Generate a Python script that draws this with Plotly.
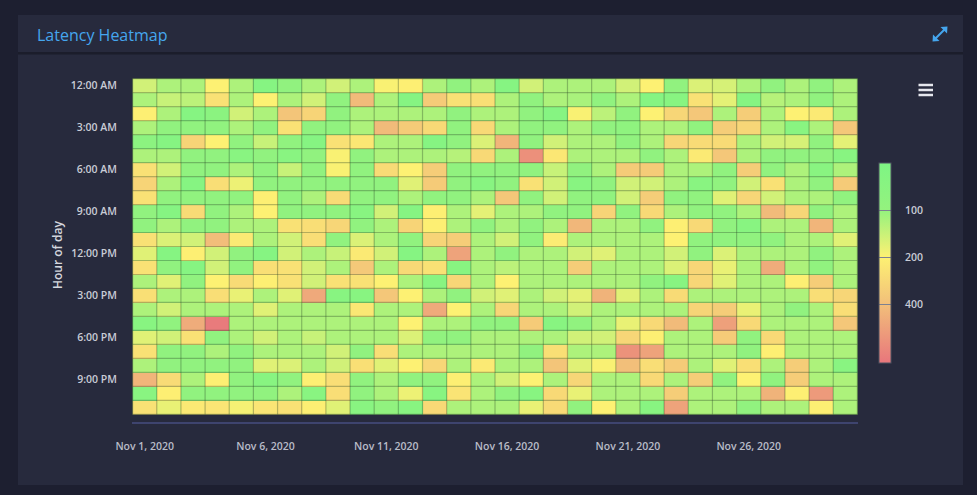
import numpy as np
import pandas as pd
import plotly.graph_objects as go

# ---------------- data ----------------
days = pd.date_range("2020-11-01", periods=30, freq="D")
hours = list(range(24))
hour_ticks = [0, 3, 6, 9, 12, 15, 18, 21]
hour_labels = ["12:00 AM", "3:00 AM", "6:00 AM", "9:00 AM",
               "12:00 PM", "3:00 PM", "6:00 PM", "9:00 PM"]

# latency (ms): one row per hour of day (0..23), one column per day (Nov 1..30)
latency_ms = [
    [150,118,118,200,118,65,90,118,150,118, 195,205,118,90,118,65,150,118,118,118, 150,200,90,160,155,118,90,118,90,118],
    [118,140,130,250,118,200,118,150,90,420, 118,65,340,250,255,118,90,118,115,90, 118,65,68,250,170,65,125,118,90,118],
    [205,118,65,75,150,118,370,300,90,118, 118,118,118,90,118,118,90,65,195,130, 90,200,290,360,118,330,118,200,220,118],
    [118,90,90,90,118,90,250,90,90,118, 420,340,280,90,280,118,90,90,118,90, 85,118,118,90,330,290,118,70,118,360],
    [78,65,300,200,90,140,90,65,250,230, 118,118,65,90,160,450,90,150,118,118, 90,118,290,270,270,118,150,155,90,170],
    [118,118,90,90,70,90,70,90,195,90, 118,118,118,125,280,118,700,230,118,118, 118,90,118,220,360,118,90,90,90,68],
    [250,150,90,90,118,90,140,90,195,90, 270,200,330,90,90,90,90,140,90,118, 340,340,118,118,90,330,90,118,70,118],
    [300,118,65,260,180,90,90,90,90,90, 90,165,340,90,68,90,250,150,68,90, 150,150,118,70,90,150,250,118,90,340],
    [250,90,90,90,90,205,90,118,270,90, 90,118,90,90,118,360,90,150,90,90, 150,330,90,90,165,290,150,118,118,90],
    [90,65,270,90,118,200,90,90,90,68, 150,65,205,118,170,118,118,90,90,300, 90,280,118,90,90,118,420,290,90,118],
    [90,118,90,90,118,118,250,260,290,90, 118,300,205,118,90,118,90,118,440,118, 118,90,205,280,90,68,118,118,450,118],
    [250,160,150,410,220,118,150,260,90,160, 118,90,300,330,118,150,90,215,118,118, 118,118,200,90,90,90,90,118,118,165],
    [165,65,205,150,90,65,150,118,140,220, 150,65,118,560,118,90,118,118,150,165, 118,118,150,90,160,118,118,118,90,118],
    [250,90,65,150,90,255,250,150,118,350, 118,280,250,68,118,130,118,118,330,118, 118,118,160,290,175,118,500,118,90,118],
    [118,165,90,200,270,205,250,150,250,250, 200,118,68,290,118,200,118,118,118,118, 118,90,68,290,165,118,118,205,330,118],
    [255,118,118,260,175,118,165,520,68,68, 360,200,118,90,150,165,118,150,170,460, 165,118,270,118,118,118,118,118,260,290],
    [118,150,118,118,118,165,118,118,118,230, 118,118,510,200,118,290,118,118,150,118, 118,118,118,300,330,175,118,90,118,260],
    [68,90,500,900,118,118,118,118,118,118, 118,200,118,118,90,90,340,68,90,118, 175,280,420,118,580,280,118,118,118,360],
    [165,150,250,90,118,150,118,140,118,118, 118,160,90,90,118,118,118,118,150,150, 290,205,118,118,340,90,280,118,118,118],
    [250,90,90,118,90,118,118,118,150,90, 260,118,118,118,118,118,90,255,118,118, 680,560,118,118,118,90,205,118,118,118],
    [118,90,90,90,90,165,160,118,150,255, 165,200,290,118,220,118,118,370,165,195, 400,260,340,118,165,255,118,330,118,70],
    [450,270,118,205,90,68,90,205,260,90, 118,90,90,205,118,150,200,118,290,118, 118,280,118,330,90,200,90,330,118,118],
    [70,205,90,90,90,90,118,70,260,90, 118,180,68,240,118,90,68,280,175,118, 118,118,330,118,118,118,460,205,620,118],
    [250,175,225,235,190,235,250,205,165,70, 90,68,280,118,118,118,175,275,90,200, 118,68,560,118,118,90,118,118,205,118],
]

vmin, vmax = 50, 950
colorbar_ticks = [100, 200, 400]
stop_values = [950, 400, 200, 100, 50]
stop_colors = ["#e8767c", "#f2bf7a", "#fdf173", "#94f27e", "#7ef584"]

# ---------------- styling ----------------
PAGE_BG = "#1d1f30"
CARD_BG = "#272a3d"
BORDER_C = "rgba(40,66,36,0.33)"
TXT = "#c9ccd6"
FONT = "Open Sans"

W, H = 977, 495
L, R, T, B = 132, 858, 78, 415


def px(x):
    return (x - L) / (R - L)


def py(y):
    return (B - y) / (B - T)


vals = np.array(latency_ms, dtype=float)
# log color axis, drawn with the smallest value at the top of the colorbar
z = -np.log10(vals)
zmin, zmax = -np.log10(vmax), -np.log10(vmin)
colorscale = sorted(
    [[float((-np.log10(v) - zmin) / (zmax - zmin)), c] for v, c in zip(stop_values, stop_colors)]
)

fig = go.Figure()
fig.add_trace(go.Heatmap(
    x=days, y=hours, z=z, zmin=zmin, zmax=zmax,
    colorscale=colorscale,
    customdata=vals,
    hovertemplate="%{x|%b %-d, %Y}, hour %{y}<br>%{customdata} ms<extra></extra>",
    colorbar=dict(
        x=px(879), xanchor="left", xpad=0,
        y=py(263.3), yanchor="middle", ypad=0,
        len=200, lenmode="pixels", thickness=12, thicknessmode="pixels",
        outlinewidth=1, outlinecolor="#4f5262",
        tickmode="array",
        tickvals=[-np.log10(v) for v in colorbar_ticks],
        ticktext=["\u00a0\u00a0\u00a0\u00a0" + str(v) for v in colorbar_ticks],
        ticks="inside", ticklen=12, tickwidth=1, tickcolor="#7d8190",
        tickfont=dict(family=FONT, size=10.5, color=TXT, weight=600),
    ),
))

shapes = [
    # card
    dict(type="rect", xref="paper", yref="paper", x0=px(18), x1=px(963), y0=py(15), y1=py(485),
         fillcolor=CARD_BG, line=dict(width=0), layer="below"),
    # header separator
    dict(type="rect", xref="paper", yref="paper", x0=px(18), x1=px(963), y0=py(52), y1=py(54.5),
         fillcolor="#1b1d2b", line=dict(width=0), layer="below"),
    # x axis line
    dict(type="line", xref="paper", yref="paper", x0=px(132), x1=px(858), y0=py(423), y1=py(423),
         line=dict(color="#474e80", width=1.5)),
    # expand icon
    dict(type="line", xref="paper", yref="paper", x0=px(935.5), x1=px(944.5), y0=py(38.5), y1=py(29.5),
         line=dict(color="#45a6ee", width=2)),
    dict(type="path", xref="paper", yref="paper",
         path=f"M {px(947.5)} {py(26.5)} L {px(940.5)} {py(27)} L {px(947)} {py(33.5)} Z",
         fillcolor="#45a6ee", line=dict(width=0)),
    dict(type="path", xref="paper", yref="paper",
         path=f"M {px(932.5)} {py(41.5)} L {px(939.5)} {py(41)} L {px(933)} {py(34.5)} Z",
         fillcolor="#45a6ee", line=dict(width=0)),
]
# hamburger menu icon
for yy in (85, 90, 95):
    shapes.append(dict(type="line", xref="paper", yref="paper", x0=px(918.5), x1=px(933),
                       y0=py(yy), y1=py(yy), line=dict(color="#e6e7ee", width=2.5)))

# cell borders (semi-transparent, like the heatmap's point borders)
half_day = pd.Timedelta(hours=12)
x_edges = [d - half_day for d in days] + [days[-1] + half_day]
y_edges = [h - 0.5 for h in hours] + [hours[-1] + 0.5]
for xe in x_edges:
    shapes.append(dict(type="line", xref="x", yref="y", x0=str(xe), x1=str(xe),
                       y0=y_edges[0], y1=y_edges[-1], line=dict(color=BORDER_C, width=1.2)))
for ye in y_edges:
    shapes.append(dict(type="line", xref="x", yref="y", x0=str(x_edges[0]), x1=str(x_edges[-1]),
                       y0=ye, y1=ye, line=dict(color=BORDER_C, width=1.2)))

annotations = [
    dict(text="Latency Heatmap", xref="paper", yref="paper", x=px(35), y=py(35),
         xanchor="left", yanchor="middle", showarrow=False,
         font=dict(family=FONT, size=16, color="#45a6ee")),
    dict(text="Hour of day", xref="paper", yref="paper", x=px(57), y=py(255),
         xanchor="center", yanchor="middle", textangle=-90, showarrow=False,
         font=dict(family=FONT, size=12, color="#d4d6de", weight=600)),
]

fig.update_layout(
    width=W, height=H,
    margin=dict(l=L, r=W - R, t=T, b=H - B),
    paper_bgcolor=PAGE_BG, plot_bgcolor=CARD_BG,
    shapes=shapes, annotations=annotations,
    showlegend=False,
    xaxis=dict(
        type="date", tickformat="%b %-d, %Y", tick0="2020-11-01", dtick=5 * 86400000,
        ticks="outside", ticklen=21, tickcolor="rgba(0,0,0,0)",
        tickfont=dict(family=FONT, size=10.5, color="#b9bcc8", weight=600),
        showgrid=False, zeroline=False, showline=False,
    ),
    yaxis=dict(
        autorange="reversed", tickmode="array", tickvals=hour_ticks, ticktext=hour_labels,
        ticks="outside", ticklen=12, tickcolor="rgba(0,0,0,0)",
        tickfont=dict(family=FONT, size=10.5, color=TXT, weight=600),
        showgrid=False, zeroline=False, showline=False,
    ),
)

fig.write_html("out.html")
